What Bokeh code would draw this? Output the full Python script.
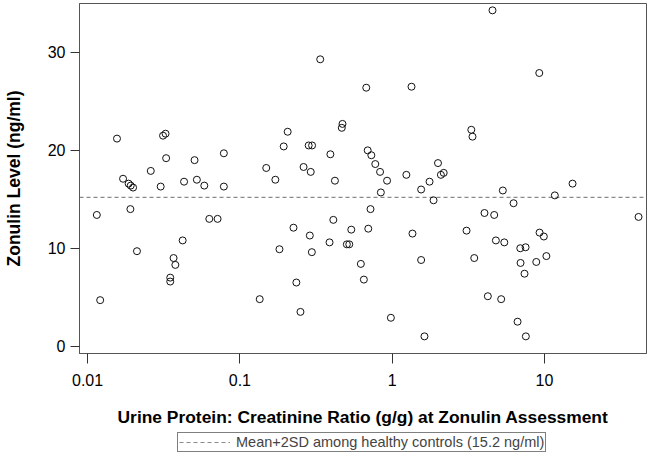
from bokeh.plotting import figure
from bokeh.layouts import column
from bokeh.models import (FixedTicker, Legend, LegendItem, CustomJSTickFormatter, Range1d)
from bokeh.embed import file_html
from bokeh.resources import INLINE

# Urine protein:creatinine ratio (g/g)
UPCR = [0.0115, 0.0121, 0.0156, 0.0171, 0.0186, 0.0192, 0.0199, 0.0191, 0.0211, 0.0260,
        0.0302, 0.0313, 0.0325, 0.0328, 0.0349, 0.0349, 0.0367, 0.0377, 0.0421, 0.0430,
        0.0504, 0.0522, 0.0584, 0.0630, 0.0714, 0.0785, 0.0785, 0.135, 0.149, 0.171,
        0.182, 0.194, 0.206, 0.225, 0.235, 0.250, 0.262, 0.283, 0.288, 0.292,
        0.298, 0.297, 0.337, 0.388, 0.393, 0.411, 0.421, 0.467, 0.472, 0.504,
        0.523, 0.539, 0.623, 0.652, 0.676, 0.691, 0.697, 0.721, 0.730, 0.775,
        0.833, 0.843, 0.926, 0.981, 1.24, 1.34, 1.36, 1.55, 1.55, 1.63,
        1.76, 1.87, 2.00, 2.09, 2.18, 3.08, 3.31, 3.37, 3.46, 4.04,
        4.25, 4.56, 4.68, 4.80, 5.20, 5.33, 5.45, 6.27, 6.66, 6.94,
        6.97, 7.40, 7.52, 7.55, 8.84, 9.25, 9.29, 9.91, 10.3, 11.7,
        15.3, 41.5]
# Zonulin level (ng/ml)
ZONULIN = [13.4, 4.7, 21.2, 17.1, 16.6, 16.4, 16.2, 14.0, 9.7, 17.9,
           16.3, 21.5, 21.7, 19.2, 7.0, 6.6, 9.0, 8.3, 10.8, 16.8,
           19.0, 17.0, 16.4, 13.0, 13.0, 19.7, 16.3, 4.8, 18.2, 17.0,
           9.9, 20.4, 21.9, 12.1, 6.5, 3.5, 18.3, 20.5, 11.3, 17.8,
           20.5, 9.6, 29.3, 10.6, 19.6, 12.9, 16.9, 22.3, 22.7, 10.4,
           10.4, 11.9, 8.4, 6.8, 26.4, 20.0, 12.0, 14.0, 19.5, 18.6,
           17.8, 15.7, 16.9, 2.9, 17.5, 26.5, 11.5, 16.0, 8.8, 1.0,
           16.8, 14.9, 18.7, 17.5, 17.7, 11.8, 22.1, 21.4, 9.0, 13.6,
           5.1, 34.3, 13.4, 10.8, 4.8, 15.9, 10.6, 14.6, 2.5, 10.0,
           8.5, 7.4, 10.1, 1.0, 8.6, 27.9, 11.6, 11.2, 9.2, 15.4,
           16.6, 13.2]

REF_LEVEL = 15.2
REF_LABEL = "Mean+2SD among healthy controls (15.2 ng/ml)"
X_TICKS = [0.01, 0.1, 1, 10]
X_TICK_LABELS = ["0.01", "0.1", "1", "10"]
Y_TICKS = [0, 10, 20, 30]
X_LIMITS = [0.00885, 46.8]
Y_LIMITS = [-0.75, 35.0]

FONT = "Liberation Sans"
REF_STYLE = dict(line_color="#8a8a8a", line_dash="4 3", line_width=1.2)

p = figure(frame_width=567, frame_height=350, x_axis_type="log",
           x_range=Range1d(*X_LIMITS), y_range=Range1d(*Y_LIMITS),
           output_backend="svg", toolbar_location=None,
           min_border_left=73, min_border_right=5, min_border_top=3, min_border_bottom=78)

p.grid.visible = False
p.background_fill_color = "white"
p.border_fill_color = "white"
p.outline_line_color = "#555555"
p.outline_line_width = 1

# axes
p.xaxis.ticker = FixedTicker(ticks=X_TICKS)
p.xaxis.formatter = CustomJSTickFormatter(args=dict(tvals=X_TICKS, tlabels=X_TICK_LABELS), code="""
let best = 0, d = Infinity;
for (let i = 0; i < tvals.length; i++) {
  const e = Math.abs(Math.log10(tvals[i]) - Math.log10(tick));
  if (e < d) { d = e; best = i; }
}
return tlabels[best];
""")
p.yaxis.ticker = FixedTicker(ticks=Y_TICKS)

for ax in (p.xaxis, p.yaxis):
    ax.minor_tick_line_color = None
    ax.major_tick_in = 0
    ax.axis_line_color = "#555555"
    ax.major_tick_line_color = "#333333"
    ax.major_label_text_font = FONT
    ax.major_label_text_font_size = "16px"
    ax.major_label_text_color = "black"
    ax.axis_label_text_font = FONT
    ax.axis_label_text_font_style = "bold"
    ax.axis_label_text_color = "black"

p.xaxis.major_tick_out = 10
p.xaxis.major_label_standoff = 10
p.xaxis.axis_label = "Urine Protein: Creatinine Ratio (g/g) at Zonulin Assessment"
p.xaxis.axis_label_text_font_size = "17.4px"
p.xaxis.axis_label_standoff = 18

p.yaxis.major_tick_out = 9
p.yaxis.major_label_standoff = 5
p.yaxis.axis_label = "Zonulin Level (ng/ml)"
p.yaxis.axis_label_text_font_size = "17.5px"
p.yaxis.axis_label_standoff = 21

# reference line
p.line(x=X_LIMITS, y=[REF_LEVEL, REF_LEVEL], **REF_STYLE)

# data points
p.scatter(UPCR, ZONULIN, marker="circle", size=7, fill_color=None,
          line_color="#111111", line_width=1)

# legend strip beneath the chart
leg_fig = figure(frame_width=567, frame_height=24, x_axis_type="log",
                 x_range=Range1d(*X_LIMITS), y_range=Range1d(0, 1),
                 output_backend="svg", toolbar_location=None,
                 min_border_left=73, min_border_right=5, min_border_top=0, min_border_bottom=0)
leg_fig.axis.visible = False
leg_fig.grid.visible = False
leg_fig.outline_line_color = None
leg_fig.background_fill_color = "white"
leg_fig.border_fill_color = "white"
ref_proxy = leg_fig.line(x=X_LIMITS, y=[REF_LEVEL, REF_LEVEL], **REF_STYLE)

legend = Legend(items=[LegendItem(label=REF_LABEL, renderers=[ref_proxy])],
                location=(151, 3), orientation="horizontal",
                border_line_color="black", border_line_width=1,
                padding=1, margin=0, spacing=0,
                glyph_width=51, glyph_height=12, label_height=12,
                label_standoff=6, label_text_font=FONT,
                label_text_font_size="14.5px", background_fill_color="white")
leg_fig.add_layout(legend, "center")

layout = column(p, leg_fig, spacing=0)
open("out.html", "w").write(file_html(layout, INLINE))
